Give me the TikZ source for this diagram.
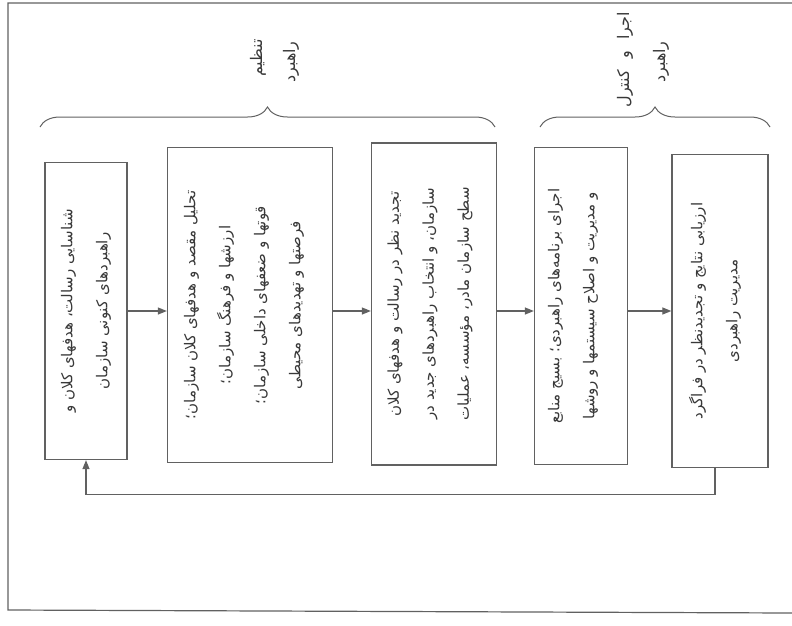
\documentclass[tikz,border=0pt]{standalone}
\usepackage{fontspec}
\newfontfamily\arabicfont[Script=Arabic]{DejaVu Sans}
\TeXXeTstate=1
\usetikzlibrary{arrows.meta,decorations.pathreplacing}
\definecolor{inkgray}{gray}{0.38}
\definecolor{txtgray}{gray}{0.22}
\tikzset{
  stage/.style={draw=inkgray, line width=1.3pt, inner sep=0pt},
  stagetext/.style={rotate=90, align=center, text=txtgray, inner sep=0pt,
    font=\arabicfont\fontsize{15}{35}\selectfont},
  phase/.style={rotate=90, text=txtgray, inner sep=0pt,
    font=\arabicfont\fontsize{16}{34}\selectfont},
  flow/.style={draw=inkgray, line width=1.2pt, -{Triangle[length=9pt,width=7pt]}},
  phasebrace/.style={draw=inkgray, line width=1pt, decorate,
    decoration={brace, amplitude=20pt}}
}
\begin{document}
\begin{tikzpicture}[x=1pt,y=-1pt]
    \useasboundingbox (0,0) rectangle (792,625);
    % page frame
    \draw[inkgray, line width=1.2pt] (792,3) -- (8,3) -- (8,610) -- (792,613);
    % stages
    \node[stage, minimum width=82pt, minimum height=297pt] (b1) at (86,311) {};
    \node[stage, minimum width=165pt, minimum height=315pt] (b2) at (250,305) {};
    \node[stage, minimum width=125pt, minimum height=322pt] (b3) at (434,304) {};
    \node[stage, minimum width=93pt, minimum height=317pt] (b4) at (581,306) {};
    \node[stage, minimum width=96pt, minimum height=313pt] (b5) at (720,311) {};
    \node[stagetext] (t1) at (b1) {\beginR شناسایی رسالت، هدفهای کلان و\endR\\
        \beginR راهبردهای کنونی سازمان\endR};
    \node[stagetext] (t2) at ([xshift=-6pt]b2.center) {\beginR تحلیل مقصد و هدفهای کلان سازمان؛\endR\\
        \beginR ارزشها و فرهنگ سازمان؛\endR\\
        \beginR قوتها و ضعفهای داخلی سازمان؛\endR\\
        \beginR فرصتها و تهدیدهای محیطی\endR};
    \node[stagetext] (t3) at ([xshift=-4pt]b3.center) {\beginR تجدید نظر در رسالت و هدفهای کلان\endR\\
        \beginR سازمان، و انتخاب راهبردهای جدید در\endR\\
        \beginR سطح سازمان مادر، مؤسسه، عملیات\endR};
    \node[stagetext] (t4) at ([xshift=-8pt]b4.center) {\beginR اجرای برنامه‌های راهبردی؛ بسیج منابع\endR\\
        \beginR و مدیریت و اصلاح سیستمها و روشها\endR};
    \node[stagetext] (t5) at ([xshift=-5pt]b5.center) {\beginR ارزیابی نتایج و تجدیدنظر در فراگرد\endR\\
        \beginR مدیریت راهبردی\endR};
    % phases
    \draw[phasebrace] (40,127) -- (495,127);
    \draw[phasebrace] (540,127) -- (770,127);
    \node[phase] (l1a) at (258,58) {\beginR تنظیم\endR};
    \node[phase] (l1b) at (291,62) {\beginR راهبرد\endR};
    \node[phase] (l2a) at (625,60) {\beginR اجرا \hspace{6pt}و\hspace{6pt} کنترل\endR};
    \node[phase] (l2b) at (661,62) {\beginR راهبرد\endR};
    % flow
    \draw[flow] (b1.east) -- (b1.east -| b2.west);
    \draw[flow] (b2.east |- b1.east) -- (b1.east -| b3.west);
    \draw[flow] (b3.east |- b1.east) -- (b1.east -| b4.west);
    \draw[flow] (b4.east |- b1.east) -- (b1.east -| b5.west);
    \draw[flow] ([xshift=-5pt]b5.south) -- ++(0,26) -| (b1.south);
\end{tikzpicture}
\end{document}
